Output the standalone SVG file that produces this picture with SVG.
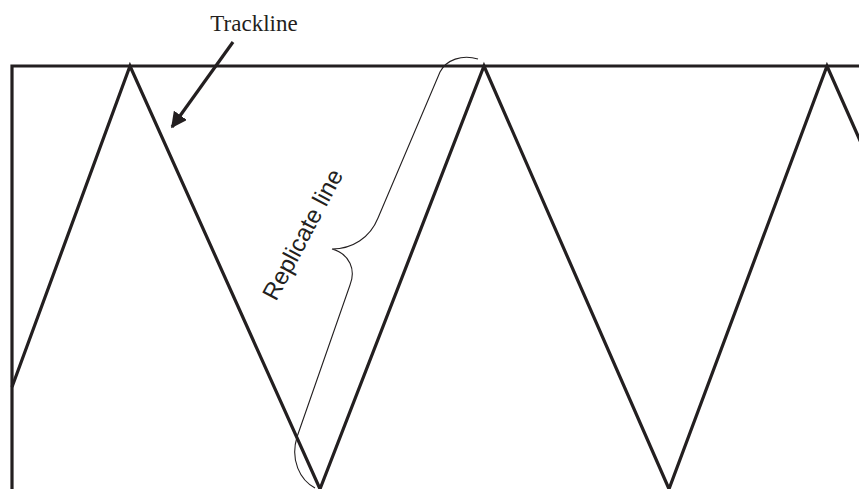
<svg xmlns="http://www.w3.org/2000/svg" width="859" height="489" viewBox="0 0 859 489">
<style>
.main{fill:none;stroke:#231f20;stroke-width:3.2;stroke-linejoin:miter}
.brace{fill:none;stroke:#231f20;stroke-width:1.1}
.serif{font-family:"Liberation Serif",serif;font-size:23px;fill:#231f20}
.sans{font-family:"Liberation Sans",Arial,sans-serif;font-size:24px;fill:#231f20}
</style>
<defs>
<marker id="ah" viewBox="0 0 10 10" refX="9" refY="5" markerWidth="5" markerHeight="5" orient="auto" markerUnits="strokeWidth">
<path d="M0,0 L10,5 L0,10 z" fill="#231f20"/>
</marker>
</defs>
<g id="frame">
<path class="main" d="M12,489 L12,66 L859,66"/>
</g>
<g id="zigzag">
<path class="main" d="M12,387 L130,66 L320,489 L484,66 L669,489 L827,66 L870,163"/>
</g>
<g id="connectors">
<line x1="233" y1="42" x2="172" y2="127" stroke="#231f20" stroke-width="3.2" marker-end="url(#ah)"/>
</g>
<g id="trackline-label">
<text class="serif" x="254" y="31" text-anchor="middle">Trackline</text>
</g>
<g id="replicate-brace">
<path class="brace" d="M478,59 C462,54 446,60 440,72 L378,218 C370,238 352,249 332,249 C350,254 356,270 350,285 L297,437 C290,460 300,480 315,488"/>
<text class="sans" transform="translate(276,302) rotate(-62)">Replicate line</text>
</g>
</svg>
